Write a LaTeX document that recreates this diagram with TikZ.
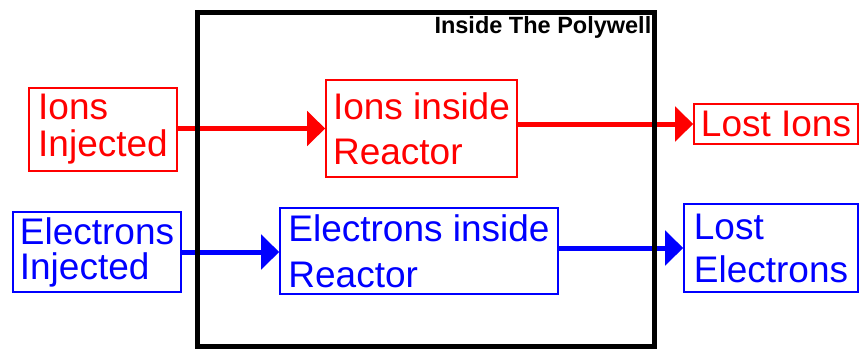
\documentclass[tikz,border=0pt]{standalone}
\usepackage{fontspec}
\setmainfont{Liberation Sans}
\usetikzlibrary{arrows.meta}
\definecolor{ionred}{HTML}{FF0000}
\definecolor{elecblue}{HTML}{0000FF}

\begin{document}
\begin{tikzpicture}[x=1pt,y=-1pt,
  flowbox/.style={draw,line width=1.6pt,align=left,inner sep=2pt,font=\fontsize{37}{45}\selectfont},
  ionbox/.style={flowbox,draw=ionred,text=ionred},
  elecbox/.style={flowbox,draw=elecblue,text=elecblue},
  flow/.style={line width=5pt,-{Triangle[length=18pt,width=34pt]}}]
  \useasboundingbox (0,0) rectangle (859,349);

  % Injected particles
  \node[ionbox,minimum width=148pt,minimum height=83pt,font=\fontsize{37}{37}\selectfont] (ii) at (103,129.5) {Ions\\Injected};
  \node[elecbox,minimum width=168pt,minimum height=80pt,font=\fontsize{37}{35}\selectfont] (ei) at (97,252) {Electrons\\Injected};

  % Particles inside the reactor
  \node[ionbox,minimum width=191pt,minimum height=97pt] (ir) at (421.5,128.5) {Ions inside\\Reactor};
  \node[elecbox,minimum width=278pt,minimum height=86pt,font=\fontsize{37}{46}\selectfont] (er) at (419,251) {Electrons inside\\Reactor};

  % Losses
  \node[ionbox,minimum width=164pt,minimum height=40pt] (li) at (776,124) {Lost Ions};
  \node[elecbox,minimum width=174pt,minimum height=88pt,font=\fontsize{37}{43}\selectfont] (le) at (771,248) {Lost\\Electrons};

  % Flows
  \draw[flow,ionred] (ir.west -| ii.east) -- (ir.west);
  \draw[flow,ionred] (li.west -| ir.east) -- (li.west);
  \draw[flow,elecblue] (ei.east) -- (ei.east -| er.west);
  \draw[flow,elecblue] (le.west -| er.east) -- (le.west);

  % Polywell wall
  \node[draw,line width=5pt,minimum width=456.5pt,minimum height=334pt] (poly) at (425.75,179.5) {};
  \node[anchor=base east,inner sep=0pt,font=\fontsize{23.5}{27}\selectfont\bfseries] (title) at ([xshift=-5pt,yshift=-23.5pt]poly.north east) {Inside The Polywell};
\end{tikzpicture}
\end{document}
